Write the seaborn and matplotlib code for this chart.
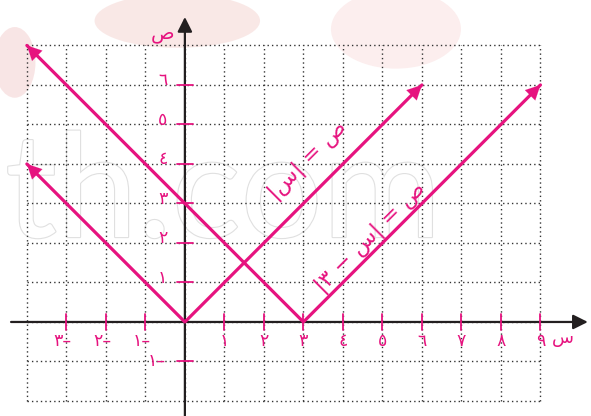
import numpy as np
import pandas as pd
import matplotlib
matplotlib.use("Agg")
import matplotlib.pyplot as plt
import matplotlib.patheffects as pe
from matplotlib.patches import Ellipse
import seaborn as sns

# ---------------- data ----------------
line1_x = [-4, 0, 6]          # y = |x|
line1_y = [4, 0, 6]
line2_x = [-4, 3, 9]          # y = |x - 3|
line2_y = [7, 0, 6]

x_ticks = [-3, -2, -1, 1, 2, 3, 4, 5, 6, 7, 8, 9]
x_tick_labels = ["٣–", "٢–", "١–", "١", "٢", "٣", "٤", "٥", "٦", "٧", "٨", "٩"]
y_ticks = [-1, 1, 2, 3, 4, 5, 6]
y_tick_labels = ["١–", "١", "٢", "٣", "٤", "٥", "٦"]

grid_x = list(range(-4, 10))
grid_y = list(range(-2, 8))

label1 = "|س| = ص"
label2 = "|٣ − س| = ص"
x_axis_name = "س"
y_axis_name = "ص"

# ---------------- style ----------------
PINK = "#E6137F"
DARK = "#231F20"
sns.set_theme(style="white")
plt.rcParams["font.family"] = ["DejaVu Sans"]

fig = plt.figure(figsize=(5.91, 4.16), dpi=100)
ax = fig.add_axes([0, 0, 1, 1])
ax.set_xlim(-4.68, 10.28)
ax.set_ylim(-2.38, 8.15)
ax.axis("off")

# faint watermark blobs (background decoration)
for (cx, cy, w, h, c) in [(0.025, 0.85, 0.07, 0.17, "#f4d0d0"),
                          (0.30, 0.95, 0.28, 0.13, "#f5d6d3"),
                          (0.67, 0.93, 0.22, 0.19, "#fae0e0")]:
    ax.add_patch(Ellipse((cx, cy), w, h, transform=fig.transFigure,
                         facecolor=c, edgecolor="none", alpha=0.55, zorder=0))

ax.text(-4.55, 2.15, "th.com", fontsize=104, family="Lato", fontweight="normal",
        color="white", zorder=0.5,
        path_effects=[pe.withStroke(linewidth=1.6, foreground="#e0e0e0")])

# grid (dotted)
for gx in grid_x:
    ax.plot([gx, gx], [grid_y[0], grid_y[-1]], color="#333333", lw=1.0,
            ls=(0, (1, 2.2)), zorder=1)
for gy in grid_y:
    ax.plot([grid_x[0], grid_x[-1]], [gy, gy], color="#333333", lw=1.0,
            ls=(0, (1, 2.2)), zorder=1)

# axes with arrows
ax.annotate("", xy=(10.2, 0), xytext=(-4.4, 0),
            arrowprops=dict(arrowstyle="-|>", color=DARK, lw=1.6,
                            mutation_scale=22, shrinkA=0, shrinkB=0), zorder=3)
ax.annotate("", xy=(0, 7.72), xytext=(0, -2.5),
            arrowprops=dict(arrowstyle="-|>", color=DARK, lw=1.6,
                            mutation_scale=22, shrinkA=0, shrinkB=0), zorder=3)

# tick marks
for t in x_ticks:
    ax.plot([t, t], [-0.2, 0.2], color=PINK, lw=1.3, zorder=4)
for t in y_ticks:
    ax.plot([-0.2, 0.2], [t, t], color=PINK, lw=1.3, zorder=4)

# tick labels
for t, lab in zip(x_ticks, x_tick_labels):
    dx = -0.1 if t < 0 else 0
    ax.text(t + dx, -0.48, lab, color=PINK, fontsize=12.5, ha="center", va="center",
            zorder=4)
for t, lab in zip(y_ticks, y_tick_labels):
    dx = -0.7 if t < 0 else -0.56
    dy = 0.0 if t < 0 else 0.12
    ax.text(dx, t + dy, lab, color=PINK, fontsize=12.5, ha="center", va="center",
            zorder=4)

ax.text(-0.56, 7.3, y_axis_name, color=PINK, fontsize=14, ha="center", va="center")
ax.text(9.58, -0.4, x_axis_name, color=PINK, fontsize=13, ha="center", va="center")

# the two graphs
df1 = pd.DataFrame({"x": line1_x, "y": line1_y})
df2 = pd.DataFrame({"x": line2_x, "y": line2_y})
sns.lineplot(data=df1, x="x", y="y", ax=ax, color=PINK, lw=2.3, sort=False,
             estimator=None, zorder=5)
sns.lineplot(data=df2, x="x", y="y", ax=ax, color=PINK, lw=2.3, sort=False,
             estimator=None, zorder=5)
ax.axis("off")
ax.set_xlim(-4.68, 10.28)
ax.set_ylim(-2.38, 8.15)

for xs, ys in [(line1_x, line1_y), (line2_x, line2_y)]:
    for i0, i1 in [(1, 0), (1, 2)]:
        x_end, y_end = xs[i1], ys[i1]
        x_in = x_end + 0.01 * (xs[i0] - x_end)
        y_in = y_end + 0.01 * (ys[i0] - y_end)
        ax.annotate("", xy=(x_end, y_end), xytext=(x_in, y_in),
                    arrowprops=dict(arrowstyle="-|>", color=PINK, lw=0.1,
                                    mutation_scale=26, shrinkA=0, shrinkB=0),
                    zorder=6)

# equation labels
ax.text(3.1, 4.1, label1, color=PINK, fontsize=16, rotation=45,
        rotation_mode="anchor", ha="center", va="center", zorder=6)
ax.text(4.7, 2.15, label2, color=PINK, fontsize=16, rotation=45,
        rotation_mode="anchor", ha="center", va="center", zorder=6)

fig.savefig("out.png", dpi=100)
